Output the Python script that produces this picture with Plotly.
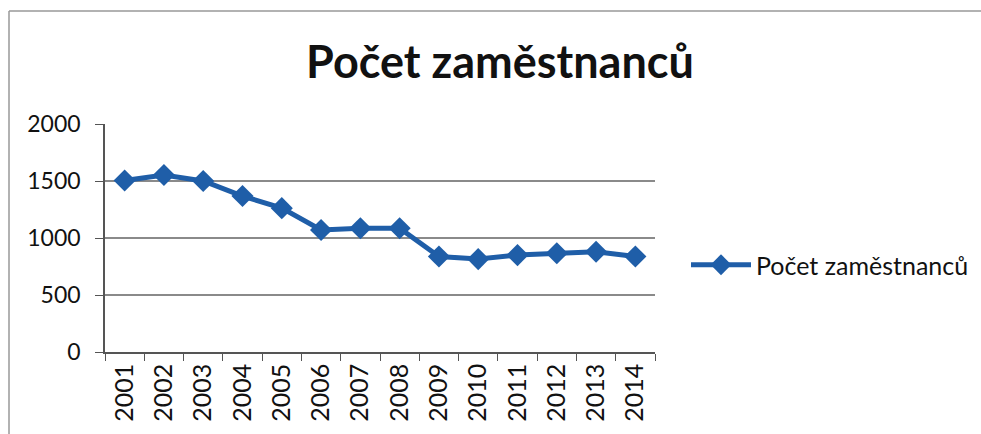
import plotly.graph_objects as go

years = ["2001", "2002", "2003", "2004", "2005", "2006", "2007",
         "2008", "2009", "2010", "2011", "2012", "2013", "2014"]
employees = [1505, 1553, 1500, 1368, 1262, 1070, 1085,
             1085, 838, 815, 850, 866, 880, 838]
series_name = "Počet zaměstnanců"
title_text = "Počet zaměstnanců"

FONT = "Lato"
BLUE = "#1f5ea8"

L, R, T, B = 105, 326, 124, 82
PW, PH = 981 - L - R, 434 - T - B

fig = go.Figure()
fig.add_trace(go.Scatter(
    x=years, y=employees, name=series_name,
    mode="lines+markers",
    line=dict(color=BLUE, width=5),
    marker=dict(symbol="diamond", size=17, color=BLUE),
))

fig.update_layout(
    width=981, height=434,
    margin=dict(l=L, r=R, t=T, b=B, autoexpand=False),
    paper_bgcolor="white", plot_bgcolor="white",
    font=dict(family=FONT, color="#111111", size=23),
    title=dict(text="<b>" + title_text + "</b>", x=500 / 981,
               xanchor="center", y=1 - 62 / 434, yanchor="middle",
               font=dict(family=FONT, size=45, color="#111111")),
    showlegend=True,
    legend=dict(x=(686 - L) / PW, xanchor="left", y=(352 - 265) / PH, yanchor="middle",
                font=dict(family=FONT, size=25, color="#111111"),
                bgcolor="rgba(0,0,0,0)", itemwidth=60),
    xaxis=dict(type="category", range=[-0.5, len(years) - 0.5],
               showgrid=False, showline=True,
               linecolor="#555555", linewidth=1.5,
               ticks="outside", ticklen=7, tickcolor="#555555",
               tickson="boundaries", tickangle=-90,
               tickfont=dict(family=FONT, size=25, color="#111111")),
    yaxis=dict(range=[0, 2000], dtick=500, showgrid=True,
               gridcolor="#8a8a8a", gridwidth=1.5,
               showline=True, linecolor="#555555", linewidth=1.5,
               ticks="outside", ticklen=8, tickcolor="#555555",
               ticklabelstandoff=10,
               zeroline=False,
               tickfont=dict(family=FONT, size=23, color="#111111")),
    shapes=[
        dict(type="line", xref="paper", yref="paper",
             x0=(9 - L) / PW, x1=(9 - L) / PW,
             y0=(352 - 460) / PH, y1=(352 - 11) / PH,
             line=dict(color="#999999", width=1.5), layer="below"),
        dict(type="line", xref="paper", yref="paper",
             x0=(9 - L) / PW, x1=(990 - L) / PW,
             y0=(352 - 11) / PH, y1=(352 - 11) / PH,
             line=dict(color="#999999", width=1.5), layer="below"),
    ],
)

fig.write_html("out.html", config={"displayModeBar": False},
               post_script="document.body.style.margin='0';document.body.style.padding='0';")
